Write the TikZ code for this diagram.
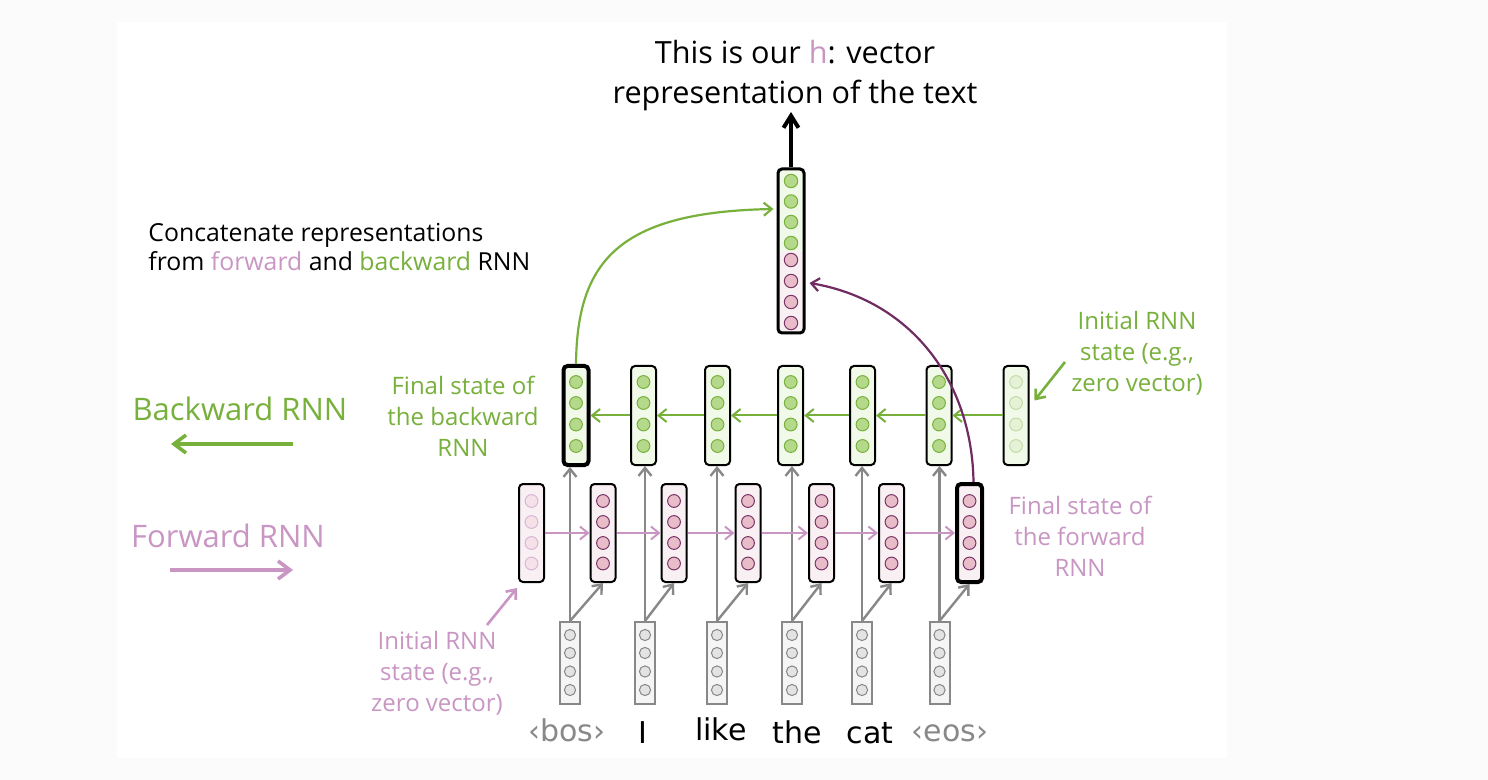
\documentclass[tikz,border=0pt]{standalone}
\usepackage{fontspec}
\setmainfont{Open Sans}
\newfontfamily\wordfont{DejaVu Sans}
\usetikzlibrary{arrows.meta}
\definecolor{bgreen}{RGB}{120,176,60}
\definecolor{gfill}{RGB}{241,249,233}
\definecolor{gdotfill}{RGB}{181,217,138}
\definecolor{fpink}{RGB}{201,150,196}
\definecolor{pfill}{RGB}{249,240,244}
\definecolor{pdotfill}{RGB}{232,188,201}
\definecolor{pdotline}{RGB}{122,53,102}
\definecolor{hpurple}{RGB}{111,43,98}
\definecolor{arrgray}{RGB}{136,136,136}
\definecolor{ingray}{RGB}{245,245,245}
\definecolor{indotfill}{RGB}{227,227,227}
\definecolor{offwhite}{RGB}{251,251,251}
\tikzset{
  vbox/.style={draw=black, line width=1pt, rounded corners=2pt, minimum width=12.5pt, inner sep=0pt},
  gbox/.style={vbox, fill=gfill, minimum height=49.5pt},
  pbox/.style={vbox, fill=pfill, minimum height=49pt},
  final/.style={line width=2pt},
  usual/.style={},
  dot/.style={circle, line width=0.5pt, minimum size=6.4pt, inner sep=0pt},
  gdot/.style={dot, draw=bgreen, fill=gdotfill},
  gdotoff/.style={dot, draw=bgreen!45, fill=gdotfill!35},
  pdot/.style={dot, draw=pdotline, fill=pdotfill},
  pdotoff/.style={dot, draw=fpink!70, fill=pdotfill!45},
  inbox/.style={draw=arrgray, line width=1pt, fill=ingray, minimum width=10pt, minimum height=41pt, inner sep=0pt},
  indot/.style={dot, draw=arrgray, fill=indotfill, minimum size=5.6pt},
  barb/.style={-{Straight Barb[length=4pt,width=6.5pt]}},
  garr/.style={barb, draw=bgreen, line width=1pt},
  parr/.style={barb, draw=fpink, line width=1pt},
  grarr/.style={barb, draw=arrgray, line width=1.2pt},
  legarr/.style={-{Straight Barb[length=6pt,width=9pt]}, line width=1.8pt},
  lbl/.style={align=center, inner sep=0pt, font=\fontsize{12}{15.5}\selectfont},
  word/.style={anchor=base, inner sep=0pt, font=\wordfont\fontsize{15}{15}\selectfont}
}
\begin{document}
\begin{tikzpicture}[x=0.5pt, y=-0.5pt]
		\useasboundingbox (0,0) rectangle (1488,780);
		\fill[offwhite] (0,0) rectangle (1488,780);
		\fill[white] (117,22) rectangle (1227,758);
		
		% word vectors
		\foreach \n/\x in {1/570, 2/645, 3/717, 4/792, 5/862, 6/939.5} {
			\draw (\x,663) node[inbox] (in\n) {};
			\foreach \cy in {635,653,671.5,690} \draw (\x,\cy) node[indot] {};
		}
		\draw (567,741) node[word, text=arrgray] (w1) {‹bos›};
		\draw (643,743) node[word] (w2) {I};
		\draw (721,740) node[word] (w3) {like};
		\draw (797,743) node[word] (w4) {the};
		\draw (870,743) node[word] (w5) {cat};
		\draw (950,741) node[word, text=arrgray] (w6) {‹eos›};
		
		% backward RNN
		\foreach \n/\x/\w in {1/576/final, 2/643.5/usual, 3/717.5/usual, 4/790.7/usual, 5/862.5/usual, 6/939/usual} {
			\draw (\x,415.5) node[gbox,\w] (g\n) {};
			\foreach \cy in {382,403,424.5,446} \draw (\x,\cy) node[gdot] {};
		}
		\draw (1016,415.5) node[gbox] (g7) {};
		\foreach \cy in {382,403,424.5,446} \draw (1016,\cy) node[gdotoff] {};
		
		% forward RNN
		\draw (531.5,533) node[pbox] (p0) {};
		\foreach \cy in {501,522,543,563.5} \draw (531.5,\cy) node[pdotoff] {};
		\foreach \n/\x/\w in {1/603/usual, 2/674/usual, 3/748/usual, 4/821.5/usual, 5/891.5/usual, 6/969.5/final} {
			\draw (\x,533) node[pbox,\w] (p\n) {};
			\foreach \cy in {501,522,543,563.5} \draw (\x,\cy) node[pdot] {};
		}
		
		\foreach \n in {1,...,6} {
			\draw[grarr] (in\n.north) -- (in\n.north |- g\n.south);
			\draw[grarr] (in\n.north) -- (p\n.south);
		}
		\foreach \n/\m in {1/2, 2/3, 3/4, 4/5, 5/6, 6/7} \draw[garr] (g\m.west) -- (g\n.east);
		\foreach \n/\m in {0/1, 1/2, 2/3, 3/4, 4/5, 5/6} \draw[parr] (p\n.east) -- (p\m.west);
		
		% concatenation
		\draw (791,251) node[vbox, line width=1.5pt, minimum width=13pt, minimum height=82pt,
			path picture={\fill[gfill] (path picture bounding box.north west) rectangle (path picture bounding box.east);
				\fill[pfill] (path picture bounding box.west) rectangle (path picture bounding box.south east);}] (h) {};
		\foreach \cy in {181,201.5,222,243} \draw (791,\cy) node[gdot, minimum size=6.7pt] {};
		\foreach \cy in {260,281,302,323} \draw (791,\cy) node[pdot, minimum size=6.7pt] {};
		
		\draw[garr, line width=1.1pt] (g1.north) .. controls (577,260) and (620,212) .. ([xshift=-1.5pt,yshift=21pt]h.west);
		\draw[barb, draw=hpurple, line width=1.1pt] ([xshift=2pt]p6.north) .. controls (972,380) and (910,300) .. ([xshift=2pt,yshift=-16pt]h.east);
		
		\draw (795,76) node[align=center, inner sep=0pt, font=\fontsize{15.3}{20}\selectfont] (title) {This is our \textcolor{fpink}{h}: vector\\representation of the text};
		\coordinate (htop) at (791,112);
		\draw[-{Straight Barb[length=6pt,width=7.5pt]}, line width=2pt] (h.north) -- (htop);
		
		% labels
		\draw (148,247) node[anchor=west, align=left, inner sep=0pt, font=\fontsize{12.4}{14.5}\selectfont] (concat) {Concatenate representations\\from \textcolor{fpink}{forward} and \textcolor{bgreen}{backward} RNN};
		
		\draw (240,409) node[inner sep=0pt, text=bgreen, font=\fontsize{15.5}{18}\selectfont] (bwd) {Backward RNN};
		\coordinate (bwdA) at (293,444);
		\coordinate (bwdB) at (171,444);
		\draw[legarr, bgreen] (bwdA) -- (bwdB);
		
		\draw (228,536) node[inner sep=0pt, text=fpink, font=\fontsize{15.5}{18}\selectfont] (fwd) {Forward RNN};
		\coordinate (fwdA) at (170,570);
		\coordinate (fwdB) at (293,570);
		\draw[legarr, fpink] (fwdA) -- (fwdB);
		
		\draw (463,416) node[lbl, text=bgreen] (gfinal) {Final state of\\the backward\\RNN};
		\draw (1137,353) node[lbl, text=bgreen] (ginit) {Initial RNN\\state (e.g.,\\zero vector)};
		\coordinate (ginitA) at (1065,362);
		\draw[garr, line width=1.3pt] (ginitA) -- ([xshift=2.5pt,yshift=7.5pt]g7.east);
		
		\draw (1080,536) node[lbl, text=fpink] (pfinal) {Final state of\\the forward\\RNN};
		\draw (437,673) node[lbl, text=fpink] (pinit) {Initial RNN\\state (e.g.,\\zero vector)};
		\coordinate (pinitA) at (487,625);
		\draw[parr, line width=1.3pt] (pinitA) -- ([xshift=-0.5pt,yshift=-2.5pt]p0.south west);
	\end{tikzpicture}
\end{document}
